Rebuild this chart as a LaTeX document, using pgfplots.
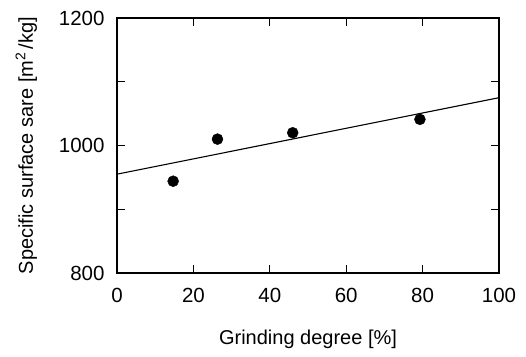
\documentclass[border=0pt]{standalone}
\usepackage{pgfplots}
\pgfplotsset{compat=1.18}
\usepackage{fontspec}
\setmainfont{Liberation Sans}
\begin{document}
\begin{tikzpicture}
\useasboundingbox (-117pt,-83pt) rectangle (409pt,273pt);
\begin{axis}[
  at={(0pt,0pt)}, anchor=south west,
  scale only axis, width=382pt, height=255pt,
  xmin=0, xmax=100, ymin=800, ymax=1200,
  xtick={0,20,40,60,80,100},
  ytick={800,900,1000,1100,1200},
  yticklabels={800,,1000,,1200},
  tick align=inside, major tick length=8pt,
  tick style={line width=1pt, black},
  axis line style={line width=1.3pt},
  /pgf/number format/assume math mode=true,
  /pgf/number format/1000 sep={},
  tick label style={font=\fontsize{20.5}{24}\selectfont},
  label style={font=\fontsize{20}{24}\selectfont},
  xticklabel style={yshift=-12pt},
  yticklabel style={xshift=-9pt},
  xlabel={Grinding degree [\%]},
  ylabel={Specific surface sare [m$^{\mathrm{2}}$\,/kg]},
  xlabel style={yshift=-20pt},
  ylabel style={yshift=15pt},
]
\addplot[only marks, mark=*, mark size=5.5pt, black] coordinates {
  (14.7,944) (26.3,1010) (46.0,1020) (79.3,1041)
};
\addplot[black, line width=1.1pt] coordinates {(0,955) (100,1075)};
\end{axis}
\end{tikzpicture}
\end{document}
